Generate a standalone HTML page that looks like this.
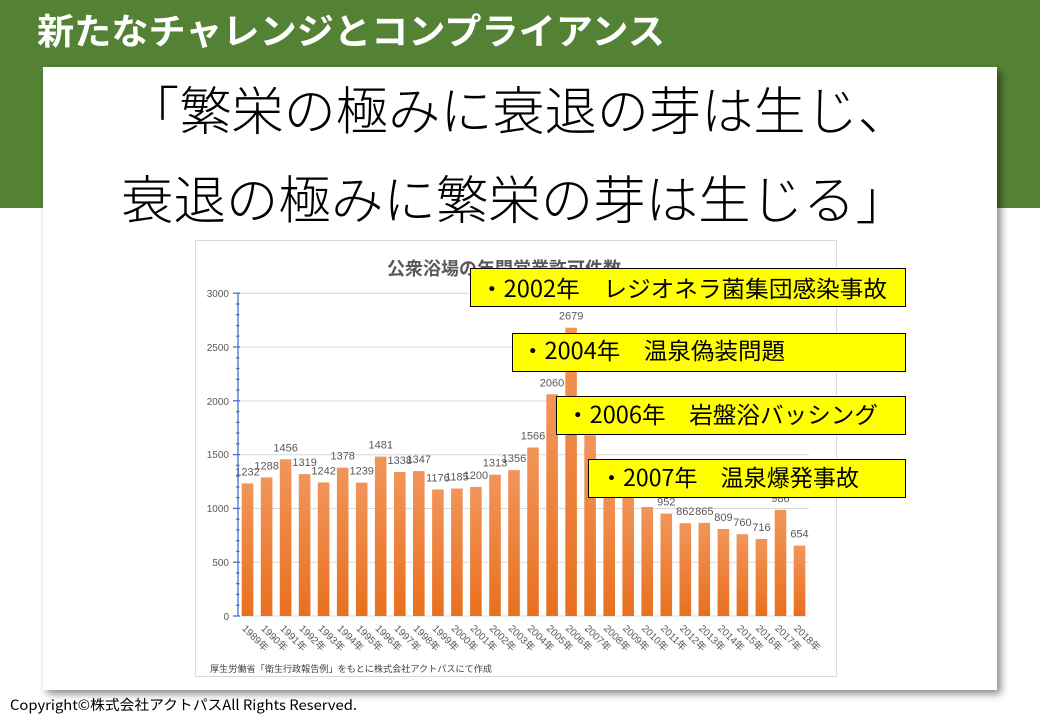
<!DOCTYPE html>
<html><head><meta charset="utf-8">
<style>
html,body{margin:0;padding:0;background:#fff;}
svg{display:block;}
text{font-family:"Liberation Sans","Noto Sans CJK JP",sans-serif;}
.cjk{font-family:"Noto Sans CJK JP","Liberation Sans",sans-serif;}
</style></head>
<body>
<svg width="1040" height="720" viewBox="0 0 1040 720" xmlns="http://www.w3.org/2000/svg">
<defs>
<filter id="sh" x="-5%" y="-5%" width="112%" height="112%">
<feDropShadow dx="4" dy="4" stdDeviation="4" flood-color="#000" flood-opacity="0.45"/>
</filter>
<linearGradient id="bg" x1="0" y1="0" x2="0" y2="1">
<stop offset="0" stop-color="#f2955a"/>
<stop offset="1" stop-color="#e8701f"/>
</linearGradient>
</defs>
<rect x="0" y="0" width="1040" height="720" fill="#fff"/>
<rect x="0" y="0" width="1040" height="208" fill="#548235"/>
<text class="cjk" x="37" y="44" font-size="36" font-weight="bold" fill="#fff" textLength="628" lengthAdjust="spacingAndGlyphs">新たなチャレンジとコンプライアンス</text>

<rect x="43" y="67" width="954" height="623" fill="#fff" filter="url(#sh)"/>

<text class="cjk" x="127" y="130" font-size="52" font-weight="300" fill="#000" textLength="783" lengthAdjust="spacingAndGlyphs">「繁栄の極みに衰退の芽は生じ、</text>
<text class="cjk" x="121" y="219" font-size="52" font-weight="300" fill="#000" textLength="787" lengthAdjust="spacingAndGlyphs">衰退の極みに繁栄の芽は生じる」</text>

<!-- chart box -->
<rect x="195.5" y="240.5" width="641" height="436" fill="#fff" stroke="#d9d9d9" stroke-width="1"/>
<text class="cjk" x="387" y="275" font-size="18" font-weight="bold" fill="#595959">公衆浴場の年間営業許可件数</text>

<g id="grid" stroke="#d9d9d9" stroke-width="1">
<line x1="238" y1="293.3" x2="809" y2="293.3"/>
<line x1="238" y1="347.1" x2="809" y2="347.1"/>
<line x1="238" y1="400.9" x2="809" y2="400.9"/>
<line x1="238" y1="454.7" x2="809" y2="454.7"/>
<line x1="238" y1="508.5" x2="809" y2="508.5"/>
<line x1="238" y1="562.3" x2="809" y2="562.3"/>
<line x1="238" y1="616" x2="809" y2="616"/>
</g>

<g font-size="10" fill="#595959" text-anchor="end">
<text x="229" y="297">3000</text>
<text x="229" y="351">2500</text>
<text x="229" y="405">2000</text>
<text x="229" y="458">1500</text>
<text x="229" y="512">1000</text>
<text x="229" y="566">500</text>
<text x="229" y="620">0</text>
</g>

<g id="bars"></g>
<g id="labels" font-size="11" fill="#595959" text-anchor="middle"></g>
<g id="xl" font-size="10" fill="#595959"></g>

<!-- y axis -->
<g id="yaxis" stroke="#4472c4" stroke-width="1.3">
<line x1="238" y1="293" x2="238" y2="616"/>
</g>

<text class="cjk" x="210" y="672" font-size="9" fill="#404040" textLength="282" lengthAdjust="spacingAndGlyphs">厚生労働省「衛生行政報告例」をもとに株式会社アクトパスにて作成</text>

<!-- yellow boxes -->
<rect x="470.5" y="268.5" width="435" height="38" fill="#ffff00" stroke="#000" stroke-width="1"/>
<text class="cjk" x="480" y="297" font-size="23" fill="#000" textLength="407" lengthAdjust="spacingAndGlyphs">・2002年　レジオネラ菌集団感染事故</text>
<rect x="512.5" y="333.5" width="393" height="38" fill="#ffff00" stroke="#000" stroke-width="1"/>
<text class="cjk" x="521" y="359" font-size="23" fill="#000" textLength="264" lengthAdjust="spacingAndGlyphs">・2004年　温泉偽装問題</text>
<rect x="556.5" y="396.5" width="349" height="38" fill="#ffff00" stroke="#000" stroke-width="1"/>
<text class="cjk" x="566" y="423" font-size="23" fill="#000" textLength="312" lengthAdjust="spacingAndGlyphs">・2006年　岩盤浴バッシング</text>
<rect x="588.5" y="459.5" width="317" height="38" fill="#ffff00" stroke="#000" stroke-width="1"/>
<text class="cjk" x="600" y="486" font-size="23" fill="#000" textLength="259" lengthAdjust="spacingAndGlyphs">・2007年　温泉爆発事故</text>

<text class="cjk" x="10" y="710" font-size="14" fill="#000" textLength="347" lengthAdjust="spacingAndGlyphs">Copyright©株式会社アクトパスAll Rights Reserved.</text>
</svg>
<script>
(function(){
var ns="http://www.w3.org/2000/svg";
var vals=[1232,1288,1456,1319,1242,1378,1239,1481,1338,1347,1176,1185,1200,1313,1356,1566,2060,2679,1680,1250,1150,1013,952,862,865,809,760,716,986,654];
var bars=document.getElementById("bars"),labels=document.getElementById("labels"),xl=document.getElementById("xl"),ya=document.getElementById("yaxis");
var x0=238,cw=(809-238)/30,y0=616,k=53.8/500;
for(var i=0;i<30;i++){
 var cx=x0+cw*(i+0.5),h=vals[i]*k,top=y0-h;
 var r=document.createElementNS(ns,"rect");
 r.setAttribute("x",(cx-5.8).toFixed(1));r.setAttribute("y",top.toFixed(1));
 r.setAttribute("width","11.6");r.setAttribute("height",h.toFixed(1));
 r.setAttribute("fill","url(#bg)");bars.appendChild(r);
 if(i!==21){
  var t=document.createElementNS(ns,"text");
  t.setAttribute("x",cx.toFixed(1));t.setAttribute("y",(top-8).toFixed(1));
  t.textContent=vals[i];labels.appendChild(t);
 }
 var a=document.createElementNS(ns,"text");
 a.setAttribute("transform","translate("+(cx-6).toFixed(1)+",629) rotate(45)");
 a.textContent=(1989+i)+"年";xl.appendChild(a);
}
for(var j=0;j<=30;j++){
 var y=y0-j*100*k,l=document.createElementNS(ns,"line");
 var major=(j%5===0);
 l.setAttribute("x1",major?233:236);l.setAttribute("x2",major?240:239.5);
 l.setAttribute("y1",y.toFixed(1));l.setAttribute("y2",y.toFixed(1));
 ya.appendChild(l);
}
})();
</script>
</body></html>
